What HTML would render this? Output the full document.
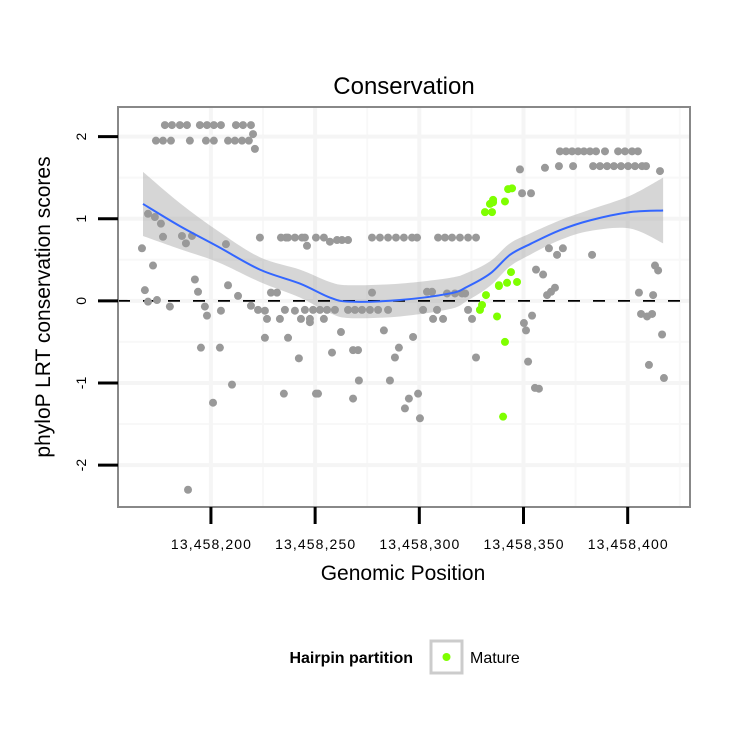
<!DOCTYPE html>
<html><head><meta charset="utf-8"><style>
body{margin:0;background:#fff;}
svg{display:block;font-family:"Liberation Sans",sans-serif;}
</style></head><body>
<svg id="chart" width="750" height="750"></svg>
<script>
const grayX=[177.9,181.3,185.1,188.5,194.7,198.1,201.4,204.8,212,215.4,219.2,173.6,177,180.8,189.9,197.6,201.4,208.2,211.5,214.9,218.2,220.2,221.1,169.8,173.1,176,177,166.9,172.2,168.3,169.8,174.1,180.3,186.1,188,190.9,192.3,193.8,197.1,198.1,195.2,204.3,207.2,208.2,213,210.1,201,189,204.8,219.2,222.6,225.9,226.9,225.9,223.5,228.8,231.7,233.1,237,233.6,236,237,240.3,245.1,246.1,235.5,240.3,245.1,243.2,247.5,242.2,235,250.4,243.7,250.4,254.2,257.1,260.5,262.9,265.8,277.3,281.1,285,288.8,292.6,296.5,298.9,309,312.3,315.7,319.5,323.4,327.2,277.3,303.7,306.1,313.3,317.1,320.5,322,249,252.3,255.7,259.5,265.8,269.1,272.5,276.3,280.2,285,301.8,308.5,323.4,247.5,254.2,306.6,311.4,325.3,262.4,283,297,258.1,268.2,270.6,290.2,288.3,327.2,271,285.9,251.4,268.2,295,299.4,293.1,300.3,348.3,360.3,367,373.8,383.4,386.7,390.1,393.4,396.8,400.2,403.5,406.9,408.8,367.5,370.4,373.3,376.2,379,381.9,384.8,389.1,395.4,398.7,402.1,404.9,415.5,349.3,353.6,362.2,368.9,366.1,382.9,413.1,414.6,356,359.4,361.3,363.2,365.1,405.4,412.2,406.4,409.3,411.7,354.1,350.2,351.2,416.5,352.2,410.2,417.4,355.5,357.4];
const grayY=[2.14,2.14,2.14,2.14,2.14,2.14,2.14,2.14,2.14,2.14,2.14,1.95,1.95,1.95,1.95,1.95,1.95,1.95,1.95,1.95,1.95,2.03,1.85,1.06,1.02,0.94,0.78,0.64,0.43,0.13,-0.01,0.01,-0.07,0.79,0.70,0.79,0.26,0.11,-0.07,-0.18,-0.57,-0.57,0.69,0.19,0.06,-1.02,-1.24,-2.3,-0.12,-0.06,-0.11,-0.12,-0.22,-0.45,0.77,0.1,0.1,-0.22,-0.45,0.77,0.77,0.77,0.77,0.77,0.67,-0.11,-0.12,-0.11,-0.22,-0.26,-0.7,-1.13,-1.13,0.77,0.77,0.77,0.72,0.74,0.74,0.74,0.77,0.77,0.77,0.77,0.77,0.77,0.77,0.77,0.77,0.77,0.77,0.77,0.77,0.1,0.11,0.11,0.09,0.09,0.09,0.09,-0.11,-0.11,-0.11,-0.11,-0.11,-0.11,-0.11,-0.11,-0.11,-0.11,-0.11,-0.11,-0.11,-0.22,-0.22,-0.22,-0.22,-0.22,-0.38,-0.36,-0.44,-0.63,-0.6,-0.6,-0.57,-0.69,-0.69,-0.97,-0.97,-1.13,-1.19,-1.19,-1.13,-1.31,-1.43,1.6,1.62,1.64,1.64,1.64,1.64,1.64,1.64,1.64,1.64,1.64,1.64,1.64,1.82,1.82,1.82,1.82,1.82,1.82,1.82,1.82,1.82,1.82,1.82,1.82,1.58,1.31,1.31,0.64,0.64,0.56,0.56,0.43,0.37,0.38,0.32,0.07,0.11,0.16,0.1,0.07,-0.16,-0.19,-0.16,-0.18,-0.27,-0.36,-0.41,-0.74,-0.78,-0.94,-1.06,-1.07];
const matureX=[333.9,331.5,335.4,332,330.1,329.1,337.3,338.2,344.5,342.6,335.4,341.1,334.9,344,338.2,342.1,346.9,341.1,340.2];
const matureY=[1.18,1.08,1.23,0.07,-0.05,-0.11,-0.19,0.19,1.37,1.36,1.2,1.21,1.08,0.35,0.18,0.22,0.23,-0.5,-1.41];
const fitX=[167.4,185.1,203.4,223.5,242.7,257.1,266.7,290.7,314.7,322.9,333.9,343.5,353.1,367.5,381.9,401.1,417];
const fitY=[1.18,0.91,0.66,0.38,0.21,0.04,-0.01,0.01,0.09,0.17,0.33,0.56,0.69,0.86,0.98,1.08,1.1];
const fitSE=[0.39,0.28,0.19,0.15,0.17,0.19,0.2,0.2,0.19,0.17,0.15,0.14,0.13,0.12,0.13,0.2,0.4];
const xTicks=[200,250,300,350,400];
const xTickLabels=["13,458,200","13,458,250","13,458,300","13,458,350","13,458,400"];
const yTicks=[-2,-1,0,1,2];

const NS="http://www.w3.org/2000/svg";
const svg=document.getElementById('chart');
const L=118,R=690,T=107,B=507;
const xMin=155.4,xMax=429.9,yMin=-2.51,yMax=2.36;
const sx=v=>L+(v-xMin)/(xMax-xMin)*(R-L);
const sy=v=>B-(v-yMin)/(yMax-yMin)*(B-T);
function mk(tag,attrs,parent){const e=document.createElementNS(NS,tag);for(const k in attrs)e.setAttribute(k,attrs[k]);(parent||svg).appendChild(e);return e;}
function spline(pts,move){let d=move?'M'+pts[0][0]+','+pts[0][1]:'L'+pts[0][0]+','+pts[0][1];
for(let i=0;i<pts.length-1;i++){const p0=pts[Math.max(0,i-1)],p1=pts[i],p2=pts[i+1],p3=pts[Math.min(pts.length-1,i+2)];
const c1=[p1[0]+(p2[0]-p0[0])/6,p1[1]+(p2[1]-p0[1])/6],c2=[p2[0]-(p3[0]-p1[0])/6,p2[1]-(p3[1]-p1[1])/6];
d+=`C${c1[0]},${c1[1]} ${c2[0]},${c2[1]} ${p2[0]},${p2[1]}`;}return d;}

const panel=mk('rect',{x:L,y:T,width:R-L,height:B-T,fill:'#fff'});


[225,275,325,375,425].forEach(v=>{const g=mk('line',{x1:sx(v),x2:sx(v),y1:T,y2:B,stroke:'#f8f8f8','stroke-width':2});

});
[-1.5,-0.5,0.5,1.5].forEach(v=>{const g=mk('line',{x1:L,x2:R,y1:sy(v),y2:sy(v),stroke:'#f8f8f8','stroke-width':2});

});
xTicks.forEach(v=>{const g=mk('line',{x1:sx(v),x2:sx(v),y1:T,y2:B,stroke:'#f5f5f5','stroke-width':4});

});
yTicks.forEach(v=>{const g=mk('line',{x1:L,x2:R,y1:sy(v),y2:sy(v),stroke:'#f5f5f5','stroke-width':4});

});
const upP=fitX.map((x,i)=>[sx(x),sy(fitY[i]+fitSE[i])]);
const loP=fitX.map((x,i)=>[sx(x),sy(fitY[i]-fitSE[i])]).reverse();
const rib=mk('path',{d:spline(upP,true)+spline(loP,false)+'Z',fill:'#999','fill-opacity':0.4});


const z=mk('line',{x1:L,x2:R,y1:sy(0),y2:sy(0),stroke:'#000','stroke-width':1.8,'stroke-dasharray':'12,13'});


grayX.forEach((x,i)=>{const c=mk('circle',{cx:sx(x),cy:sy(grayY[i]),r:4,fill:'#999'});

});
const fl=mk('path',{d:spline(fitX.map((x,i)=>[sx(x),sy(fitY[i])]),true),fill:'none',stroke:'#3366ff','stroke-width':2});


matureX.forEach((x,i)=>{const c=mk('circle',{cx:sx(x),cy:sy(matureY[i]),r:4,fill:'#7fff00'});

});
const br=mk('rect',{x:L,y:T,width:R-L,height:B-T,fill:'none',stroke:'#888','stroke-width':2});


xTicks.forEach((v,i)=>{const t=mk('line',{x1:sx(v),x2:sx(v),y1:B,y2:B+17,stroke:'#000','stroke-width':3});


const l=mk('text',{x:sx(v),y:549,'text-anchor':'middle','font-size':14,textLength:80,lengthAdjust:'spacing'});l.textContent=xTickLabels[i];

});
yTicks.forEach(v=>{const t=mk('line',{x1:L-20,x2:L,y1:sy(v),y2:sy(v),stroke:'#000','stroke-width':3});


const l=mk('text',{x:0,y:0,'text-anchor':'middle','font-size':14,transform:`translate(86,${sy(v)}) rotate(-90)`});l.textContent=String(v);

});
svg.insertAdjacentHTML('beforeend',`
<text x="404" y="94" text-anchor="middle" font-size="24">Conservation</text>
<text x="403" y="580" text-anchor="middle" font-size="21">Genomic Position</text>
<text transform="translate(50,307) rotate(-90)" text-anchor="middle" font-size="21">phyloP LRT conservation scores</text>
<g>
<text x="413" y="663" text-anchor="end" font-size="16" font-weight="bold">Hairpin partition</text>
<rect x="431" y="641" width="31" height="32" fill="#fff" stroke="#ccc" stroke-width="3"/>
<circle cx="446.5" cy="657" r="4" fill="#7fff00"/>
<text x="470" y="663" font-size="16">Mature</text>
</g>`);
</script>
</body></html>
